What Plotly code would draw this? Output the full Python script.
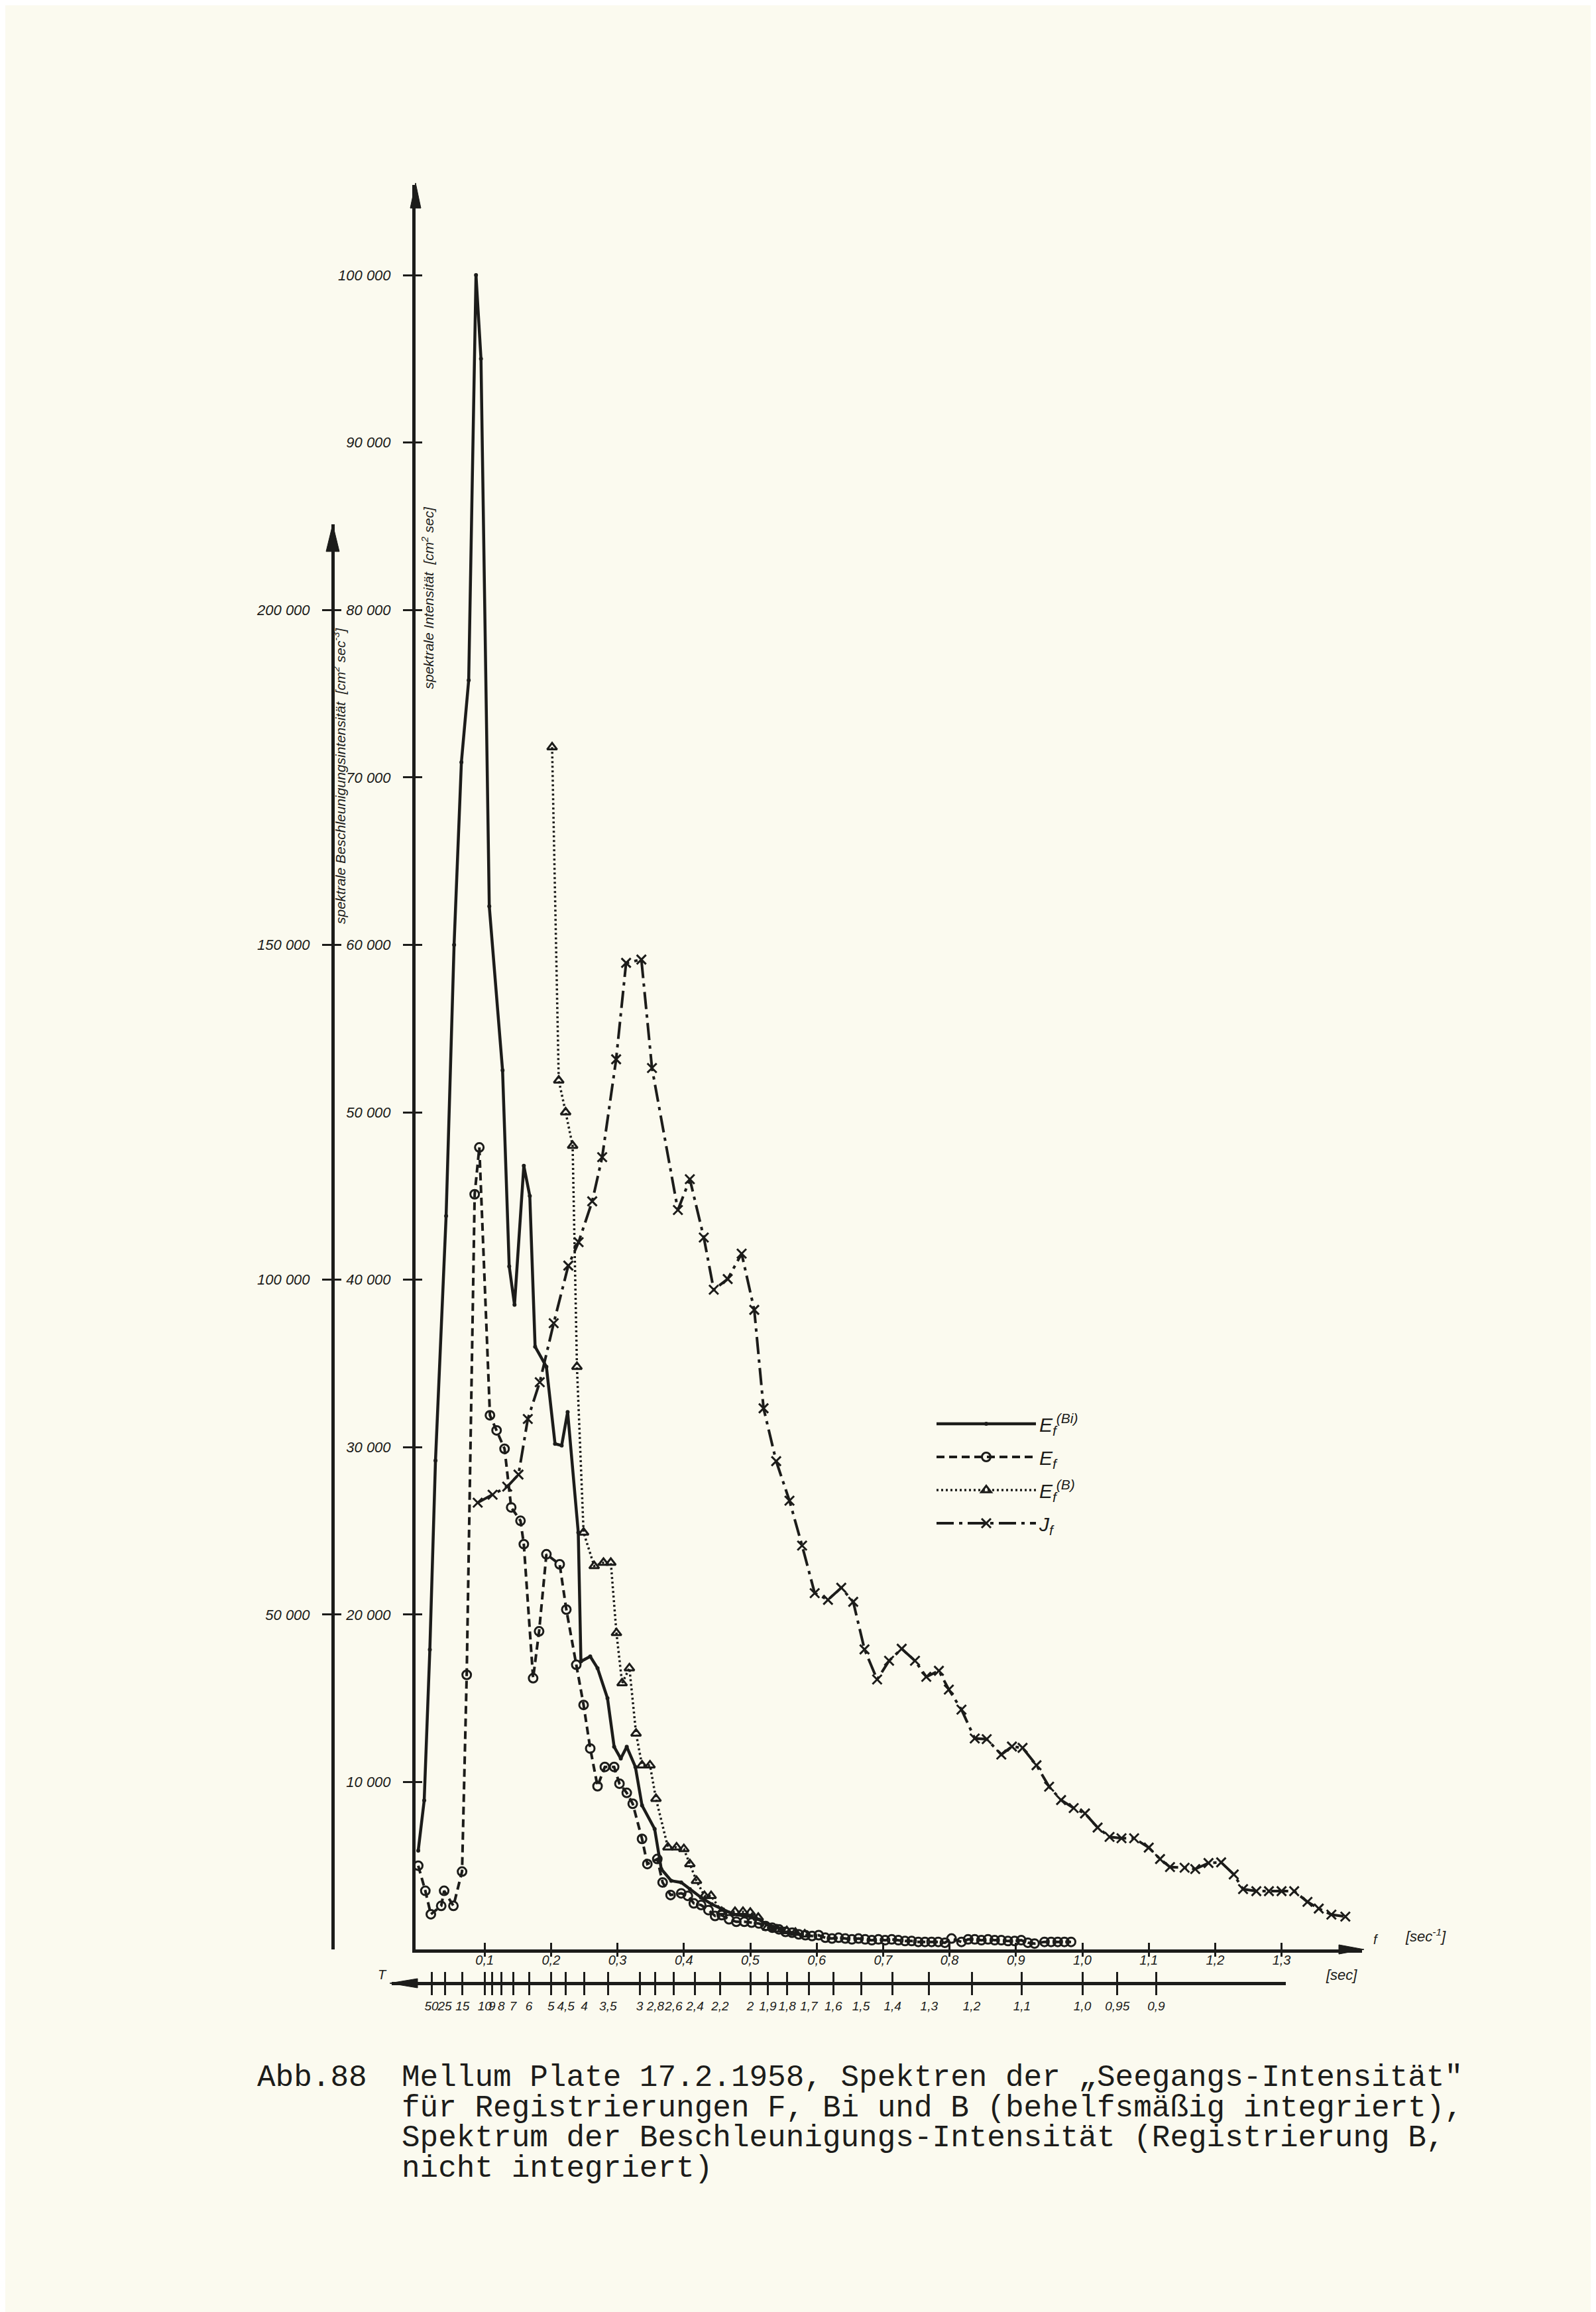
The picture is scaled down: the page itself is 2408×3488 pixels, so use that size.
import plotly.graph_objects as go

# ---------------- data ----------------
# frequency f [1/sec] and spectral values [cm^2 sec]
f_bi = [0.0, 0.009, 0.0175, 0.026, 0.042, 0.054, 0.065, 0.076, 0.087, 0.0945,
        0.107, 0.127, 0.137, 0.145, 0.159, 0.168, 0.176, 0.193, 0.206, 0.216,
        0.225, 0.241, 0.245, 0.259, 0.270, 0.285, 0.295, 0.305, 0.314, 0.327,
        0.337, 0.356, 0.366, 0.381, 0.396, 0.409, 0.426, 0.442, 0.459, 0.475,
        0.492, 0.508, 0.525, 0.545]
e_bi = [5900, 8900, 17900, 29200, 43800, 60000, 70900, 75800, 100000, 95000,
        62300, 52500, 40800, 38500, 46800, 45000, 36000, 34800, 30200, 30100,
        32100, 24900, 17200, 17500, 16800, 15000, 12100, 11400, 12100, 10900,
        8600, 7200, 4800, 4100, 4000, 3600, 3100, 2700, 2400, 2100,
        2000, 1900, 1500, 1250]

f_ef = [0.0, 0.0107, 0.019, 0.0346, 0.039, 0.053, 0.066, 0.073, 0.085, 0.092,
        0.108, 0.118, 0.130, 0.140, 0.154, 0.159, 0.173, 0.182, 0.193, 0.213,
        0.223, 0.238, 0.249, 0.259, 0.270, 0.281, 0.295, 0.303, 0.314, 0.323,
        0.337, 0.345, 0.360, 0.368, 0.380, 0.396, 0.406, 0.415, 0.426, 0.437,
        0.447, 0.457, 0.468, 0.479, 0.491, 0.502, 0.513, 0.523, 0.533, 0.543,
        0.553, 0.563, 0.573, 0.583, 0.593, 0.603, 0.613, 0.623, 0.633, 0.643,
        0.653, 0.663, 0.673, 0.683, 0.693, 0.703, 0.713, 0.723, 0.733, 0.743,
        0.753, 0.763, 0.773, 0.783, 0.793, 0.803, 0.818, 0.828, 0.838, 0.848,
        0.858, 0.868, 0.878, 0.888, 0.898, 0.908, 0.918, 0.928, 0.943, 0.953,
        0.963, 0.973, 0.983]
e_ef = [5000, 3500, 2100, 2600, 3500, 2600, 4650, 16400, 45100, 47900,
        31900, 31000, 29900, 26400, 25600, 24200, 16200, 19000, 23600, 23000,
        20300, 17000, 14600, 12000, 9750, 10900, 10900, 9900, 9350, 8700,
        6600, 5100, 5400, 4000, 3250, 3350, 3200, 2750, 2650, 2350,
        2000, 2050, 1800, 1650, 1650, 1600, 1550, 1400, 1300, 1200,
        1050, 1000, 900, 850, 800, 850, 700, 650, 700, 650,
        600, 650, 600, 550, 600, 550, 600, 550, 500, 500,
        450, 450, 450, 450, 400, 650, 450, 600, 600, 550,
        600, 550, 550, 500, 500, 550, 400, 350, 450, 450,
        450, 450, 450]

f_b = [0.2016, 0.2116, 0.222, 0.2325, 0.239, 0.249, 0.265, 0.279, 0.290, 0.2985,
       0.307, 0.318, 0.328, 0.337, 0.349, 0.358, 0.376, 0.389, 0.400, 0.409,
       0.419, 0.431, 0.441, 0.457, 0.477, 0.489, 0.500, 0.512, 0.526, 0.540,
       0.555, 0.568, 0.582]
e_b = [71800, 51900, 50000, 48000, 34800, 24900, 22900, 23100, 23100, 18900,
       15900, 16800, 12900, 11000, 11000, 9000, 6100, 6100, 6000, 5100,
       4100, 3200, 3200, 2250, 2250, 2250, 2200, 1900, 1300, 1200,
       1100, 1000, 900]

# acceleration spectrum J_f [cm^2 sec^-3] (secondary axis)
f_j = [0.0896, 0.112, 0.134, 0.151, 0.165, 0.183, 0.204, 0.226, 0.2415, 0.262,
       0.277, 0.298, 0.313, 0.336, 0.352, 0.391, 0.409, 0.430, 0.445, 0.466,
       0.487, 0.506, 0.520, 0.539, 0.559, 0.578, 0.597, 0.617, 0.637, 0.655,
       0.672, 0.691, 0.709, 0.728, 0.748, 0.765, 0.784, 0.799, 0.818, 0.838,
       0.856, 0.878, 0.894, 0.910, 0.931, 0.950, 0.968, 0.987, 1.004, 1.023,
       1.041, 1.059, 1.078, 1.100, 1.117, 1.132, 1.154, 1.170, 1.190, 1.209,
       1.228, 1.242, 1.262, 1.281, 1.300, 1.319, 1.339, 1.356, 1.375, 1.396]
j_f = [66700, 67900, 69100, 70900, 79200, 84700, 93500, 102100, 105600, 111700,
       118300, 132900, 147300, 147800, 131600, 110400, 115000, 106300, 98500, 100100,
       103900, 95500, 80800, 72900, 67000, 60300, 53200, 52200, 54000, 51900,
       44800, 40300, 43100, 44900, 43100, 40700, 41600, 38800, 35800, 31500,
       31400, 29100, 30300, 30100, 27500, 24300, 22300, 21100, 20300, 18200,
       16800, 16600, 16600, 15200, 13500, 12300, 12200, 12000, 12900, 13000,
       11200, 9000, 8700, 8700, 8700, 8700, 7100, 6100, 5200, 4900]

# tick labels
f_ticks = [0.1, 0.2, 0.3, 0.4, 0.5, 0.6, 0.7, 0.8, 0.9, 1.0, 1.1, 1.2, 1.3]
f_tick_labels = ["0,1", "0,2", "0,3", "0,4", "0,5", "0,6", "0,7", "0,8", "0,9",
                 "1,0", "1,1", "1,2", "1,3"]
T_periods = [50, 25, 15, 10, 9, 8, 7, 6, 5, 4.5, 4, 3.5, 3, 2.8, 2.6, 2.4, 2.2, 2,
             1.9, 1.8, 1.7, 1.6, 1.5, 1.4, 1.3, 1.2, 1.1, 1.0, 0.95, 0.9]
T_labels = ["50", "25", "15", "10", "9", "8", "7", "6", "5", "4,5", "4", "3,5", "3",
            "2,8", "2,6", "2,4", "2,2", "2", "1,9", "1,8", "1,7", "1,6", "1,5", "1,4",
            "1,3", "1,2", "1,1", "1,0", "0,95", "0,9"]
y_ticks = [10000, 20000, 30000, 40000, 50000, 60000, 70000, 80000, 90000, 100000]
y_tick_labels = ["10 000", "20 000", "30 000", "40 000", "50 000", "60 000",
                 "70 000", "80 000", "90 000", "100 000"]
y2_ticks = [50000, 100000, 150000, 200000]
y2_tick_labels = ["50 000", "100 000", "150 000", "200 000"]

caption_lines = [
    "Mellum Plate 17.2.1958, Spektren der \u201eSeegangs-Intensit\u00e4t\"",
    "f\u00fcr Registrierungen F, Bi und B (behelfsm\u00e4\u00dfig integriert),",
    "Spektrum der Beschleunigungs-Intensit\u00e4t (Registrierung B,",
    "nicht integriert)",
]

# ---------------- geometry / style ----------------
W, H = 2408, 3488
INK = "#1c1c1a"
PAPER = "#fbfaef"


def px(x):
    return x / W


def py(y):
    return 1 - y / H


X0, X1 = 619, 2047          # f-axis line (pixels)
F0_PX, PX_PER_F = 623, 1002  # f = 0 position, pixels per 1/sec
YB, YT, Y2T = 2933, 271, 783
PX_PER_V = 0.02526          # pixels per cm^2 sec
TX0, TX1, TY = 583, 1932, 2984

x_range = [(X0 - F0_PX) / PX_PER_F, (X1 - F0_PX) / PX_PER_F]
x2_range = [(TX0 - F0_PX) / PX_PER_F, (TX1 - F0_PX) / PX_PER_F]
y_range = [0, (YB - YT) / PX_PER_V]
y2_range = [0, 2.5 * (YB - Y2T) / PX_PER_V]

SANS = "Liberation Sans, Arial, sans-serif"
tick_font = dict(family=SANS, size=22, color=INK, style="italic")
small_font = dict(family=SANS, size=20, color=INK, style="italic")
t_font = dict(family=SANS, size=19, color=INK, style="italic")

fig = go.Figure()
fig.add_trace(go.Scatter(
    x=f_bi, y=e_bi, mode="lines+markers", name="E<sub>f</sub><sup>(Bi)</sup>",
    legendgroup="bi", line=dict(color=INK, width=4.5),
    marker=dict(size=6, color=INK), cliponaxis=False))
fig.add_trace(go.Scatter(
    x=f_ef, y=e_ef, mode="lines+markers", name="E<sub>f</sub>",
    legendgroup="ef", line=dict(color=INK, width=4, dash="12px,7px"),
    marker=dict(symbol="circle-open", size=13, color=INK, line=dict(width=3, color=INK)),
    cliponaxis=False))
fig.add_trace(go.Scatter(
    x=f_b, y=e_b, mode="lines+markers", name="E<sub>f</sub><sup>(B)</sup>",
    legendgroup="b", line=dict(color=INK, width=3.5, dash="3px,4px"),
    marker=dict(symbol="triangle-up-open", size=13, color=INK, line=dict(width=3, color=INK)),
    cliponaxis=False))
fig.add_trace(go.Scatter(
    x=f_j, y=j_f, yaxis="y2", mode="lines+markers", name="J<sub>f</sub>",
    legendgroup="j", line=dict(color=INK, width=4, dash="26px,8px,5px,8px"),
    marker=dict(symbol="x-thin", size=14, color=INK, line=dict(width=3, color=INK)),
    cliponaxis=False))
# carrier for the period axis
fig.add_trace(go.Scatter(x=[None], y=[None], xaxis="x2", yaxis="y",
                         showlegend=False, hoverinfo="skip"))

common_line = dict(showline=True, linecolor=INK, showgrid=False, zeroline=False,
                   tickcolor=INK)

fig.update_layout(
    width=W, height=H, autosize=False,
    margin=dict(l=0, r=0, t=0, b=0),
    paper_bgcolor=PAPER, plot_bgcolor="rgba(0,0,0,0)",
    xaxis=dict(domain=[px(X0), px(X1)], range=x_range, anchor="y",
               linewidth=5, tickmode="array", tickvals=f_ticks, ticktext=f_tick_labels,
               ticks="outside", ticklen=6, tickwidth=3, tickfont=small_font,
               tickangle=0, ticklabelstandoff=-12,
               minor=dict(tickmode="array", tickvals=[v + 1e-6 for v in f_ticks],
                          ticks="inside", ticklen=10, tickwidth=3, tickcolor=INK,
                          showgrid=False),
               **common_line),
    xaxis2=dict(domain=[px(TX0), px(TX1)], range=x2_range, anchor="free",
                position=py(TY), side="bottom", linewidth=5,
                tickmode="array", tickvals=[1 / t for t in T_periods], ticktext=T_labels,
                ticks="outside", ticklen=15, tickwidth=3, tickfont=t_font,
                tickangle=0,
                minor=dict(tickmode="array",
                           tickvals=[1 / t + 1e-6 for t in T_periods],
                           ticks="inside", ticklen=15, tickwidth=3, tickcolor=INK,
                           showgrid=False),
                **common_line),
    yaxis=dict(domain=[py(YB), py(YT)], range=y_range, anchor="x",
               linewidth=5, tickmode="array", tickvals=y_ticks, ticktext=y_tick_labels,
               ticks="outside", ticklen=14, tickwidth=3, tickfont=tick_font,
               ticklabelstandoff=14,
               minor=dict(tickmode="array", tickvals=[v + 0.01 for v in y_ticks],
                          ticks="inside", ticklen=10, tickwidth=3, tickcolor=INK,
                          showgrid=False),
               **common_line),
    yaxis2=dict(domain=[py(YB), py(Y2T)], range=y2_range, anchor="free",
                position=px(494), side="left", linewidth=5,
                tickmode="array", tickvals=y2_ticks, ticktext=y2_tick_labels,
                ticks="outside", ticklen=14, tickwidth=3, tickfont=tick_font,
                ticklabelstandoff=14,
                minor=dict(tickmode="array", tickvals=[v + 0.01 for v in y2_ticks],
                           ticks="inside", ticklen=10, tickwidth=3, tickcolor=INK,
                           showgrid=False),
                **common_line),
    showlegend=True,
    legend=dict(x=px(1400), y=py(2114), xanchor="left", yanchor="top",
                bgcolor="rgba(0,0,0,0)", itemwidth=150, traceorder="grouped",
                tracegroupgap=8,
                font=dict(family=SANS, size=30, color=INK, style="italic")),
)


def tri(points):
    d = "M " + " L ".join(f"{px(x):.6f} {py(y):.6f}" for x, y in points) + " Z"
    return dict(type="path", path=d, xref="paper", yref="paper",
                fillcolor=INK, line=dict(color=INK, width=1))


fig.update_layout(shapes=[
    tri([(619, 268), (611, 306), (627, 306)]),      # primary y arrow
    tri([(494, 783), (484, 824), (504, 824)]),      # secondary y arrow
    tri([(2050, 2933), (2012, 2926), (2012, 2940)]),  # f arrow
    tri([(580, 2984), (622, 2977), (622, 2991)]),   # T arrow
])

title_font = dict(family=SANS, size=21, color=INK, style="italic")
ann = []
ann.append(dict(x=px(622), y=py(755), xref="paper", yref="paper", showarrow=False,
                textangle=-90, text="spektrale Intensität  [cm<sup>2</sup> sec]",
                font=title_font))
ann.append(dict(x=px(489), y=py(1163), xref="paper", yref="paper", showarrow=False,
                textangle=-90,
                text="spektrale Beschleunigungsintensität  [cm<sup>2</sup> sec<sup>-3</sup>]",
                font=title_font))
ann.append(dict(x=px(2062), y=py(2931), xref="paper", yref="paper", showarrow=False,
                xanchor="left", text="f", font=small_font))
ann.append(dict(x=px(2110), y=py(2928), xref="paper", yref="paper", showarrow=False,
                xanchor="left", text="[sec<sup>-1</sup>]", font=tick_font))
ann.append(dict(x=px(578), y=py(2984), xref="paper", yref="paper", showarrow=False,
                xanchor="right", text="T", font=small_font))
ann.append(dict(x=px(1990), y=py(2986), xref="paper", yref="paper", showarrow=False,
                xanchor="left", text="[sec]", font=tick_font))

cap_font = dict(family="Liberation Mono, DejaVu Sans Mono, monospace", size=46, color=INK)
ann.append(dict(x=px(378), y=py(3127), xref="paper", yref="paper", showarrow=False,
                xanchor="left", yanchor="middle", text="Abb.88", font=cap_font))
for i, line in enumerate(caption_lines):
    ann.append(dict(x=px(596), y=py(3127 + 45.5 * i), xref="paper", yref="paper",
                    showarrow=False, xanchor="left", yanchor="middle",
                    text=line, font=cap_font))
fig.update_layout(annotations=ann)

fig.write_html("out.html")
